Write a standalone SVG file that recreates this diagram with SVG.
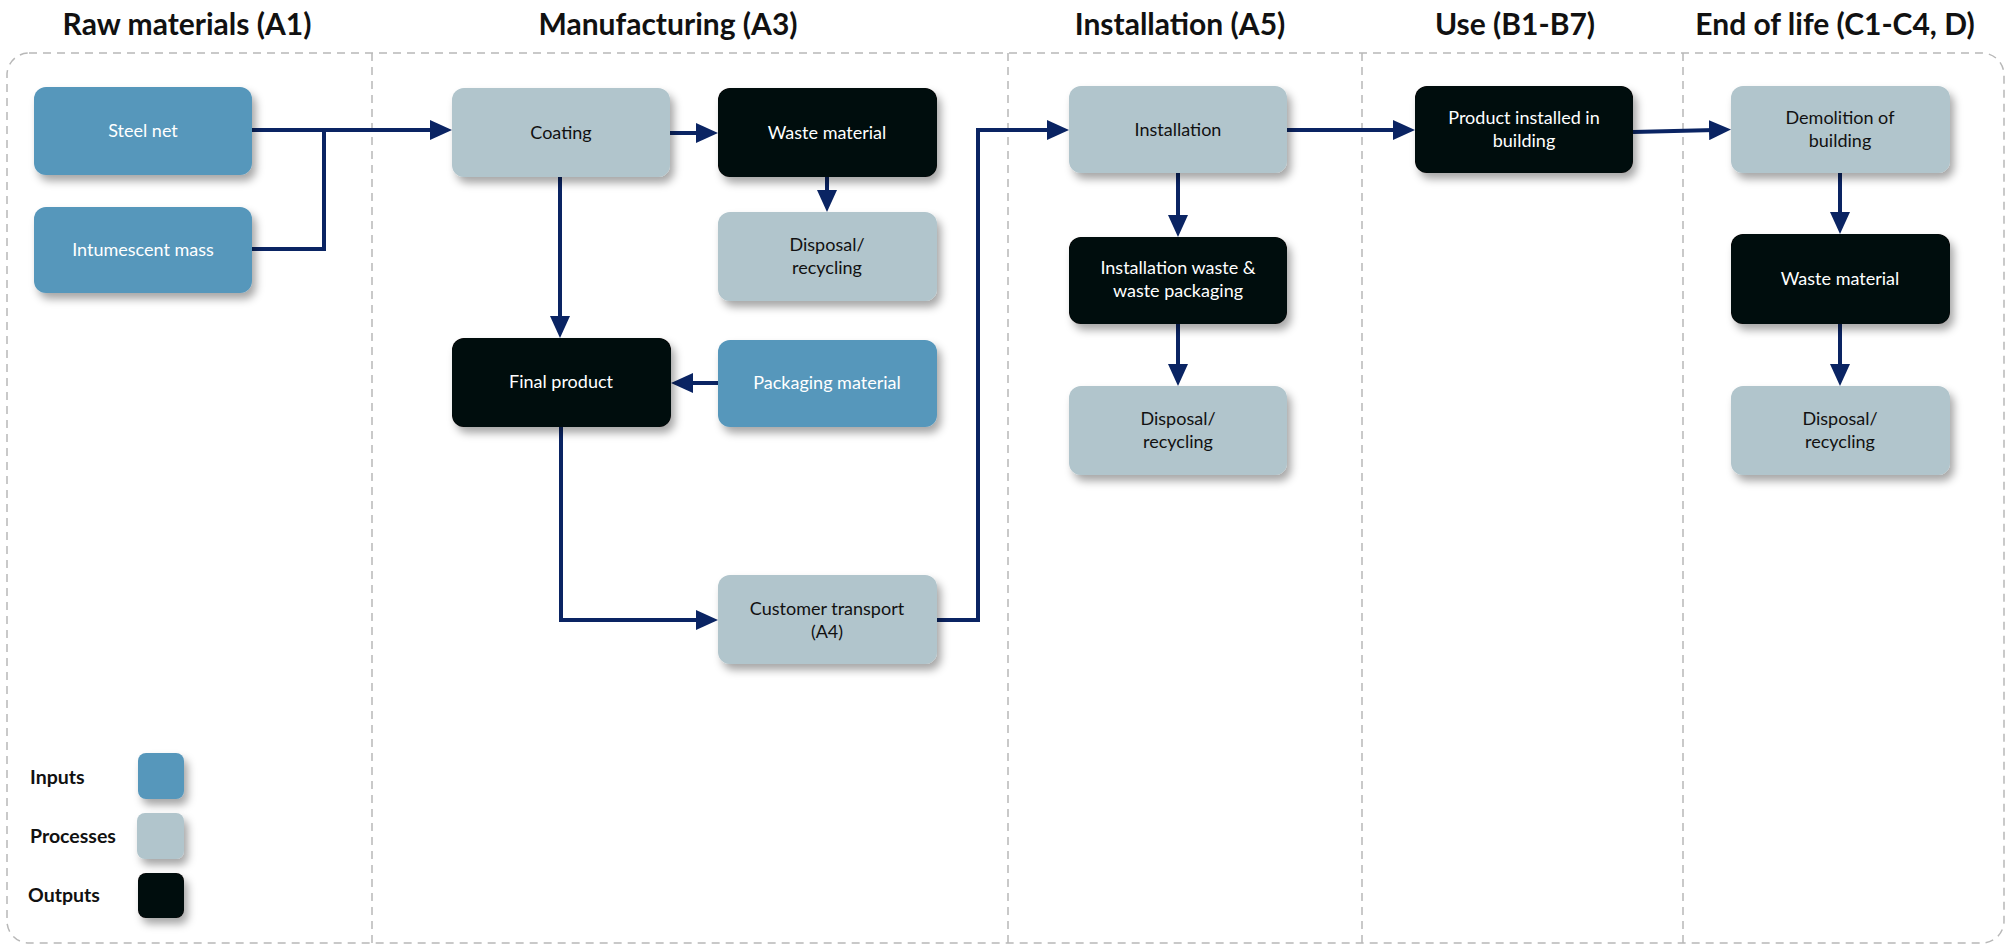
<svg xmlns="http://www.w3.org/2000/svg" width="2013" height="950" viewBox="0 0 2013 950">
<style>
.title{font-family:Lato,"Open Sans","Liberation Sans",sans-serif;font-weight:bold;font-size:30px;fill:#111;text-anchor:middle}
.lbl{font-family:Lato,"Open Sans","Liberation Sans",sans-serif;font-size:18px;text-anchor:middle}
.leg{font-family:Lato,"Open Sans","Liberation Sans",sans-serif;font-weight:bold;font-size:19.5px;fill:#111}
.in{fill:#5797bb}
.pr{fill:#b1c5cc}
.out{fill:#050707}
.tw{fill:#fff}
.td{fill:#111}
.div{stroke:#b8b8b8;stroke-width:1.5;stroke-dasharray:8 6;fill:none}
.con{stroke:#0a2463;stroke-width:4;fill:none}
</style>
<defs>
<filter id="sh" x="-20%" y="-20%" width="150%" height="160%">
<feDropShadow dx="4" dy="6" stdDeviation="4" flood-color="#000" flood-opacity="0.35"/>
</filter>
<marker id="ah" markerUnits="userSpaceOnUse" markerWidth="22" markerHeight="20" refX="6" refY="10" orient="auto">
<path d="M0,0 L22,10 L0,20 z" fill="#0a2463"/>
</marker>
</defs>
<rect width="2013" height="950" fill="#fff"/>
<g id="titles">
<text class="title" x="187" y="35">Raw materials (A1)</text>
<text class="title" x="668" y="35">Manufacturing (A3)</text>
<text class="title" x="1180" y="35">Installation (A5)</text>
<text class="title" x="1515" y="35">Use (B1-B7)</text>
<text class="title" x="1835" y="35">End of life (C1-C4, D)</text>
</g>
<g id="frame">
<rect class="div" x="7" y="53" width="1997" height="890" rx="22"/>
<line class="div" x1="372" y1="53" x2="372" y2="943"/>
<line class="div" x1="1008" y1="53" x2="1008" y2="943"/>
<line class="div" x1="1362" y1="53" x2="1362" y2="943"/>
<line class="div" x1="1683" y1="53" x2="1683" y2="943"/>
</g>
<g id="connectors">
<path class="con" d="M252,130 H436" marker-end="url(#ah)"/>
<path class="con" d="M252,249 H324 V130"/>
<path class="con" d="M670,133 H702" marker-end="url(#ah)"/>
<path class="con" d="M827,177 V196" marker-end="url(#ah)"/>
<path class="con" d="M560,177 V322" marker-end="url(#ah)"/>
<path class="con" d="M718,383 H687" marker-end="url(#ah)"/>
<path class="con" d="M561,427 V620 H702" marker-end="url(#ah)"/>
<path class="con" d="M937,620 H978 V130 H1053" marker-end="url(#ah)"/>
<path class="con" d="M1287,130 H1399" marker-end="url(#ah)"/>
<path class="con" d="M1633,132 L1715,130" marker-end="url(#ah)"/>
<path class="con" d="M1178,173 V221" marker-end="url(#ah)"/>
<path class="con" d="M1178,324 V370" marker-end="url(#ah)"/>
<path class="con" d="M1840,173 V218" marker-end="url(#ah)"/>
<path class="con" d="M1840,324 V370" marker-end="url(#ah)"/>
</g>
<g id="steel-net">
<rect class="in" filter="url(#sh)" x="34" y="87" width="218" height="88" rx="12"/>
<text class="lbl tw" x="143" y="137">Steel net</text>
</g>
<g id="intumescent-mass">
<rect class="in" filter="url(#sh)" x="34" y="207" width="218" height="86" rx="12"/>
<text class="lbl tw" x="143" y="256">Intumescent mass</text>
</g>
<g id="coating">
<rect class="pr" filter="url(#sh)" x="452" y="88" width="218" height="89" rx="12"/>
<text class="lbl td" x="561" y="139">Coating</text>
</g>
<g id="waste-material-a3">
<rect class="out" filter="url(#sh)" x="718" y="88" width="219" height="89" rx="12"/>
<text class="lbl tw" x="827" y="139">Waste material</text>
</g>
<g id="disposal-a3">
<rect class="pr" filter="url(#sh)" x="718" y="212" width="219" height="89" rx="12"/>
<text class="lbl td" x="827" y="251">Disposal/</text>
<text class="lbl td" x="827" y="274">recycling</text>
</g>
<g id="final-product">
<rect class="out" filter="url(#sh)" x="452" y="338" width="219" height="89" rx="12"/>
<text class="lbl tw" x="561" y="388">Final product</text>
</g>
<g id="packaging-material">
<rect class="in" filter="url(#sh)" x="718" y="340" width="219" height="87" rx="12"/>
<text class="lbl tw" x="827" y="389">Packaging material</text>
</g>
<g id="customer-transport">
<rect class="pr" filter="url(#sh)" x="718" y="575" width="219" height="89" rx="12"/>
<text class="lbl td" x="827" y="615">Customer transport</text>
<text class="lbl td" x="827" y="638">(A4)</text>
</g>
<g id="installation">
<rect class="pr" filter="url(#sh)" x="1069" y="86" width="218" height="87" rx="12"/>
<text class="lbl td" x="1178" y="136">Installation</text>
</g>
<g id="installation-waste">
<rect class="out" filter="url(#sh)" x="1069" y="237" width="218" height="87" rx="12"/>
<text class="lbl tw" x="1178" y="274">Installation waste &amp;</text>
<text class="lbl tw" x="1178" y="297">waste packaging</text>
</g>
<g id="disposal-a5">
<rect class="pr" filter="url(#sh)" x="1069" y="386" width="218" height="89" rx="12"/>
<text class="lbl td" x="1178" y="425">Disposal/</text>
<text class="lbl td" x="1178" y="448">recycling</text>
</g>
<g id="product-installed">
<rect class="out" filter="url(#sh)" x="1415" y="86" width="218" height="87" rx="12"/>
<text class="lbl tw" x="1524" y="124">Product installed in</text>
<text class="lbl tw" x="1524" y="147">building</text>
</g>
<g id="demolition">
<rect class="pr" filter="url(#sh)" x="1731" y="86" width="219" height="87" rx="12"/>
<text class="lbl td" x="1840" y="124">Demolition of</text>
<text class="lbl td" x="1840" y="147">building</text>
</g>
<g id="waste-material-c">
<rect class="out" filter="url(#sh)" x="1731" y="234" width="219" height="90" rx="12"/>
<text class="lbl tw" x="1840" y="285">Waste material</text>
</g>
<g id="disposal-c">
<rect class="pr" filter="url(#sh)" x="1731" y="386" width="219" height="89" rx="12"/>
<text class="lbl td" x="1840" y="425">Disposal/</text>
<text class="lbl td" x="1840" y="448">recycling</text>
</g>
<g id="legend">
<text class="leg" x="30" y="784">Inputs</text>
<rect class="in" filter="url(#sh)" x="138" y="753" width="46" height="46" rx="8"/>
<text class="leg" x="30" y="843">Processes</text>
<rect class="pr" filter="url(#sh)" x="137" y="813" width="47" height="46" rx="8"/>
<text class="leg" x="28" y="902">Outputs</text>
<rect class="out" filter="url(#sh)" x="138" y="873" width="46" height="45" rx="8"/>
</g>
</svg>
